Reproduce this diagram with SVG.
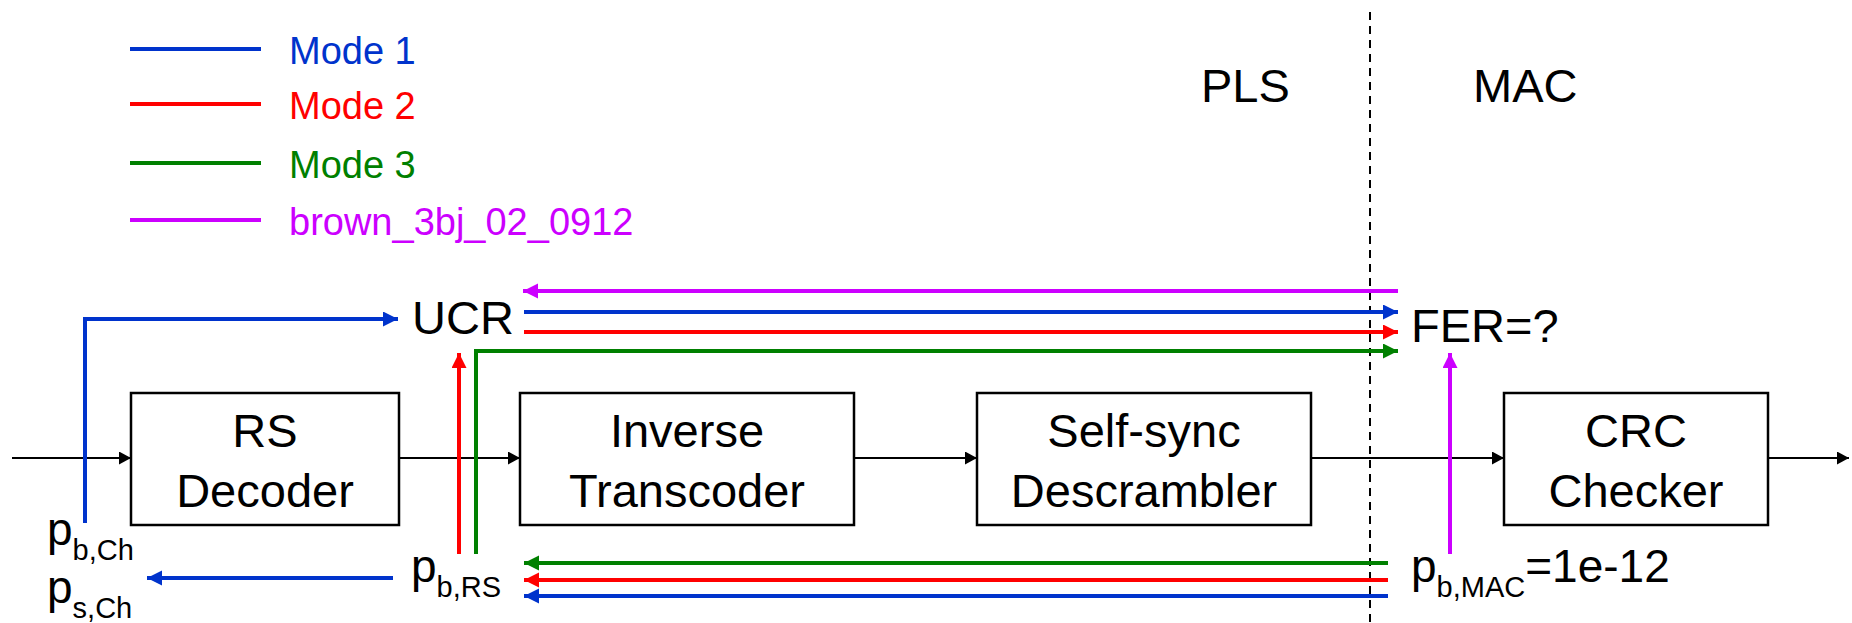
<svg xmlns="http://www.w3.org/2000/svg" width="1852" height="623" viewBox="0 0 1852 623">
<style>
text{font-family:"Liberation Sans",Arial,Helvetica,sans-serif;fill:#000}
.box{fill:#fff;stroke:#000;stroke-width:2.5}
.lbl{font-size:47px;text-anchor:middle}
.big{font-size:47px}
.pl{font-size:46px}
.sub{font-size:29px}
.leg{font-size:38px}
.k{stroke:#000;stroke-width:2;fill:none}
.b{stroke:#0033CC;stroke-width:4;fill:none}
.r{stroke:#FF0000;stroke-width:4;fill:none}
.g{stroke:#008000;stroke-width:4;fill:none}
.m{stroke:#CC00FF;stroke-width:4;fill:none}
</style>
<defs>
<marker id="ak" markerUnits="userSpaceOnUse" markerWidth="13" markerHeight="13" refX="12" refY="6.5" orient="auto"><path d="M0,0 L12,6.5 L0,13 z" fill="#000"/></marker>
<marker id="ab" markerUnits="userSpaceOnUse" markerWidth="16" markerHeight="16" refX="15" refY="7.5" orient="auto"><path d="M0,0 L15,7.5 L0,15 z" fill="#0033CC"/></marker>
<marker id="ar" markerUnits="userSpaceOnUse" markerWidth="16" markerHeight="16" refX="15" refY="7.5" orient="auto"><path d="M0,0 L15,7.5 L0,15 z" fill="#FF0000"/></marker>
<marker id="ag" markerUnits="userSpaceOnUse" markerWidth="16" markerHeight="16" refX="15" refY="7.5" orient="auto"><path d="M0,0 L15,7.5 L0,15 z" fill="#008000"/></marker>
<marker id="am" markerUnits="userSpaceOnUse" markerWidth="16" markerHeight="16" refX="15" refY="7.5" orient="auto"><path d="M0,0 L15,7.5 L0,15 z" fill="#CC00FF"/></marker>
</defs>
<rect width="1852" height="623" fill="#fff"/>

<g id="legend">
<line class="b" x1="130" y1="49" x2="261" y2="49"/>
<text class="leg" x="289" y="64" style="fill:#0033CC">Mode 1</text>
<line class="r" x1="130" y1="104" x2="261" y2="104"/>
<text class="leg" x="289" y="119" style="fill:#FF0000">Mode 2</text>
<line class="g" x1="130" y1="163" x2="261" y2="163"/>
<text class="leg" x="289" y="178" style="fill:#008000">Mode 3</text>
<line class="m" x1="130" y1="220" x2="261" y2="220"/>
<text class="leg" x="289" y="235" style="fill:#CC00FF">brown_3bj_02_0912</text>
</g>

<g id="layers">
<line x1="1370" y1="12" x2="1370" y2="623" stroke="#000" stroke-width="2" stroke-dasharray="8 6"/>
<text class="big" x="1201" y="102">PLS</text>
<text class="big" x="1473" y="102">MAC</text>
</g>

<g id="connectors">
<line class="k" x1="12" y1="458" x2="131" y2="458" marker-end="url(#ak)"/>
<line class="k" x1="399" y1="458" x2="520" y2="458" marker-end="url(#ak)"/>
<line class="k" x1="854" y1="458" x2="977" y2="458" marker-end="url(#ak)"/>
<line class="k" x1="1311" y1="458" x2="1504" y2="458" marker-end="url(#ak)"/>
<line class="k" x1="1768" y1="458" x2="1849" y2="458" marker-end="url(#ak)"/>

<polyline class="b" points="85,523 85,319 398,319" marker-end="url(#ab)"/>
<line class="m" x1="1398" y1="291" x2="523" y2="291" marker-end="url(#am)"/>
<line class="b" x1="524" y1="312" x2="1398" y2="312" marker-end="url(#ab)"/>
<line class="r" x1="524" y1="332" x2="1398" y2="332" marker-end="url(#ar)"/>
<polyline class="g" points="476,554 476,351 1398,351" marker-end="url(#ag)"/>
<line class="r" x1="459" y1="554" x2="459" y2="353" marker-end="url(#ar)"/>
<line class="m" x1="1450" y1="554" x2="1450" y2="353" marker-end="url(#am)"/>

<line class="g" x1="1388" y1="563" x2="524" y2="563" marker-end="url(#ag)"/>
<line class="r" x1="1388" y1="580" x2="524" y2="580" marker-end="url(#ar)"/>
<line class="b" x1="1388" y1="596" x2="524" y2="596" marker-end="url(#ab)"/>
<line class="b" x1="393" y1="578" x2="147" y2="578" marker-end="url(#ab)"/>
</g>

<g id="rs-decoder">
<rect class="box" x="131" y="393" width="268" height="132"/>
<text class="lbl" x="265" y="447">RS</text>
<text class="lbl" x="265" y="507">Decoder</text>
</g>
<g id="inverse-transcoder">
<rect class="box" x="520" y="393" width="334" height="132"/>
<text class="lbl" x="687" y="447">Inverse</text>
<text class="lbl" x="687" y="507">Transcoder</text>
</g>
<g id="self-sync-descrambler">
<rect class="box" x="977" y="393" width="334" height="132"/>
<text class="lbl" x="1144" y="447">Self-sync</text>
<text class="lbl" x="1144" y="507">Descrambler</text>
</g>
<g id="crc-checker">
<rect class="box" x="1504" y="393" width="264" height="132"/>
<text class="lbl" x="1636" y="447">CRC</text>
<text class="lbl" x="1636" y="507">Checker</text>
</g>

<g id="ucr"><text class="big" x="412" y="334">UCR</text></g>
<g id="fer"><text class="big" x="1411" y="342">FER=?</text></g>
<g id="pb-ch"><text class="pl" x="47" y="545">p<tspan class="sub" dy="15">b,Ch</tspan></text></g>
<g id="ps-ch"><text class="pl" x="47" y="603">p<tspan class="sub" dy="15">s,Ch</tspan></text></g>
<g id="pb-rs"><text class="pl" x="411" y="582">p<tspan class="sub" dy="15">b,RS</tspan></text></g>
<g id="pb-mac"><text class="pl" x="1411" y="582">p<tspan class="sub" dy="15">b,MAC</tspan><tspan dy="-15">=1e-12</tspan></text></g>
</svg>
